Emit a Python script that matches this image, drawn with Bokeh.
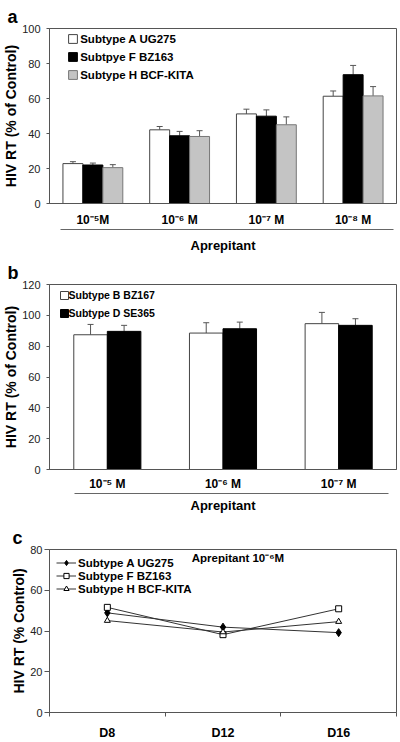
from bokeh.plotting import figure
from bokeh.layouts import column
from bokeh.models import (ColumnDataSource, Range1d, LinearAxis,
                          FixedTicker, SingleIntervalTicker, Legend, LegendItem, Label)
from bokeh.transform import dodge
from bokeh.embed import file_html
from bokeh.resources import INLINE

FONT = "Liberation Sans"

# ---------------- data ----------------
# panel a
conc_a = ["10⁻⁵M", "10⁻⁶ M", "10⁻⁷ M", "10⁻⁸ M"]
series_a = ["Subtype A UG275", "Subtpye F BZ163", "Subtype H BCF-KITA"]
a_A = [22.8, 42.1, 51.2, 61.3]
a_A_err = [1.1, 1.9, 2.7, 3.0]
a_F = [22.0, 38.7, 49.9, 73.6]
a_F_err = [1.1, 2.5, 3.6, 5.3]
a_H = [20.5, 38.3, 45.0, 61.5]
a_H_err = [1.7, 3.3, 4.5, 5.3]

# panel b
conc_b = ["10⁻⁵ M", "10⁻⁶ M", "10⁻⁷ M"]
series_b = ["Subtype B BZ167", "Subtype D SE365"]
b_B = [87.4, 88.5, 94.6]
b_B_err = [6.7, 6.7, 7.3]
b_D = [89.6, 91.3, 93.5]
b_D_err = [3.9, 4.3, 4.3]

# panel c
days_c = ["D8", "D12", "D16"]
series_c = ["Subtype A UG275", "Subtype F BZ163", "Subtype H BCF-KITA"]
c_A = [48.9, 41.9, 39.2]
c_F = [51.6, 38.2, 50.9]
c_H = [45.1, 39.5, 44.6]

AXIS_COL = "#555555"
ERR_COL = "#555555"


def style_title(p, letter, offset):
    p.title.text = letter
    p.title.text_font = FONT
    p.title.text_font_style = "bold"
    p.title.text_font_size = "18px"
    p.title.text_color = "#000000"
    p.title.align = "left"
    p.title.offset = offset
    p.title.standoff = 0
    p.title.vertical_align = "top"


def style_y(p, label, tick_out, standoff, label_standoff):
    ax = p.yaxis[0]
    ax.axis_label = label
    ax.axis_label_text_font = FONT
    ax.axis_label_text_font_style = "bold"
    ax.axis_label_text_font_size = "14px"
    ax.axis_label_text_color = "#000000"
    ax.axis_label_standoff = label_standoff
    ax.major_label_text_font = FONT
    ax.major_label_text_font_size = "11px"
    ax.major_label_text_color = "#222222"
    ax.major_label_standoff = standoff
    ax.major_tick_out = tick_out
    ax.major_tick_in = 0
    ax.minor_tick_out = 0
    ax.minor_tick_in = 0
    ax.axis_line_color = AXIS_COL
    ax.major_tick_line_color = AXIS_COL


def cat_axis(p, cats, xs, standoff, size):
    ax = p.xaxis[0]
    ax.ticker = FixedTicker(ticks=xs)
    ax.major_label_overrides = {x: c for x, c in zip(xs, cats)}
    ax.major_tick_out = 0
    ax.major_tick_in = 0
    ax.minor_tick_out = 0
    ax.minor_tick_in = 0
    ax.axis_line_color = AXIS_COL
    ax.major_label_text_font = FONT
    ax.major_label_text_font_style = "bold"
    ax.major_label_text_font_size = size
    ax.major_label_text_color = "#000000"
    ax.major_label_standoff = standoff
    return ax


def bar_panel(letter, cats, series, vals, errs, fills, outlines, height, top, bottom,
              ymax, bar_w, sep_bounds, cat_standoff, sep_standoff, leg_font, leg_glyph,
              leg_lab_h, leg_spacing, leg_standoff, leg_loc):
    xs = [i + 0.5 for i in range(len(cats))]
    p = figure(width=400, height=height, x_range=Range1d(0, len(cats)), y_range=Range1d(0, ymax),
               output_backend="svg", toolbar_location=None,
               min_border_left=49, min_border_right=4, min_border_top=top,
               min_border_bottom=bottom)
    p.background_fill_color = "white"
    p.border_fill_color = "white"
    p.outline_line_color = AXIS_COL
    p.xgrid.visible = False
    p.ygrid.visible = False
    p.yaxis.ticker = SingleIntervalTicker(interval=20)
    style_y(p, "HIV RT (% of Control)", 3, 6, 0)
    style_title(p, letter, -42)

    data = {"x": xs}
    n = len(series)
    offsets = [(i - (n - 1) / 2) * bar_w for i in range(n)]
    items = []
    for i in range(n):
        data[f"v{i}"] = vals[i]
        data[f"t{i}"] = [v + e for v, e in zip(vals[i], errs[i])]
    src = ColumnDataSource(data)
    for i in range(n):
        xx = dodge("x", offsets[i])
        p.segment(x0=xx, y0=f"v{i}", x1=xx, y1=f"t{i}", source=src,
                  line_color=ERR_COL, line_width=1)
        p.scatter(x=xx, y=f"t{i}", source=src, marker="dash", size=6,
                  line_color=ERR_COL, line_width=1)
        r = p.vbar(x=xx, top=f"v{i}", width=bar_w, source=src,
                   fill_color=fills[i], line_color=outlines[i], line_width=1)
        items.append(LegendItem(label=series[i], renderers=[r]))

    leg = Legend(items=items, location=leg_loc, padding=0, margin=0,
                 border_line_color=None, background_fill_alpha=0,
                 glyph_width=leg_glyph, glyph_height=leg_glyph, label_height=leg_lab_h,
                 spacing=leg_spacing, label_standoff=leg_standoff,
                 label_text_font=FONT, label_text_font_style="bold",
                 label_text_font_size=leg_font, label_text_color="#000000")
    p.add_layout(leg)

    cat_axis(p, cats, xs, cat_standoff, "12px")

    sax = LinearAxis(ticker=FixedTicker(ticks=[]), bounds=sep_bounds)
    sax.axis_label = "Aprepitant"
    sax.axis_label_text_font = FONT
    sax.axis_label_text_font_style = "bold"
    sax.axis_label_text_font_size = "13px"
    sax.axis_label_text_color = "#000000"
    sax.axis_label_standoff = sep_standoff
    sax.major_label_standoff = 0
    sax.major_tick_out = 0
    sax.major_tick_in = 0
    sax.minor_tick_out = 0
    sax.minor_tick_in = 0
    sax.axis_line_color = "#666666"
    p.add_layout(sax, "below")
    return p


pa = bar_panel("a", conc_a, series_a, [a_A, a_F, a_H], [a_A_err, a_F_err, a_H_err],
               ["#ffffff", "#000000", "#c4c4c4"], ["#444444", "#000000", "#777777"],
               height=255, top=28, bottom=52, ymax=100, bar_w=0.23,
               sep_bounds=(0.13, 3.96), cat_standoff=9, sep_standoff=8, leg_font="11.5px",
               leg_glyph=11, leg_lab_h=13, leg_spacing=5, leg_standoff=2,
               leg_loc=(18.2, 121.7))

pb = bar_panel("b", conc_b, series_b, [b_B, b_D], [b_B_err, b_D_err],
               ["#ffffff", "#000000"], ["#444444", "#000000"],
               height=265, top=29, bottom=51, ymax=120, bar_w=0.29,
               sep_bounds=(0.22, 2.93), cat_standoff=7, sep_standoff=4, leg_font="10.5px",
               leg_glyph=10, leg_lab_h=12, leg_spacing=6, leg_standoff=0,
               leg_loc=(9.5, 150.2))

# ---------------- panel c ----------------
xc = [i + 0.5 for i in range(len(days_c))]
pc = figure(width=400, height=222, x_range=Range1d(0, len(days_c)), y_range=Range1d(0, 80),
            output_backend="svg", toolbar_location=None,
            min_border_left=44, min_border_right=3, min_border_top=29, min_border_bottom=28)
pc.background_fill_color = "white"
pc.border_fill_color = "white"
pc.outline_line_color = AXIS_COL
pc.xgrid.visible = False
pc.ygrid.visible = False
pc.yaxis.ticker = SingleIntervalTicker(interval=20)
style_y(pc, "HIV RT (% Control)", 5, 2, 0)
style_title(pc, "c", -37)

xa = cat_axis(pc, days_c, xc, 9, "12.5px")
xa.ticker = FixedTicker(ticks=xc, minor_ticks=list(range(len(days_c) + 1)))
xa.minor_tick_out = 4
xa.minor_tick_line_color = AXIS_COL

srcc = ColumnDataSource(dict(x=xc, A=c_A, F=c_F, H=c_H))
specs = [("A", "diamond", "#000000", 8), ("F", "square", "#ffffff", 6), ("H", "triangle", "#ffffff", 6)]
items_c = []
for (key, marker, fill, size), name in zip(specs, series_c):
    lr = pc.line(x="x", y=key, source=srcc, line_color="#333333", line_width=1)
    sr = pc.scatter(x="x", y=key, source=srcc, marker=marker, size=size,
                    fill_color=fill, line_color="#000000", line_width=1)
    items_c.append(LegendItem(label=name, renderers=[lr, sr]))

legc = Legend(items=items_c, location="top_left", padding=0, margin=7,
              border_line_color=None, background_fill_alpha=0,
              glyph_width=20, glyph_height=13, label_height=13, spacing=0,
              label_standoff=2, label_text_font=FONT, label_text_font_style="bold",
              label_text_font_size="11.5px", label_text_color="#000000")
pc.add_layout(legc)

pc.add_layout(Label(x=1.23, y=75.8, text="Aprepitant 10⁻⁶M", text_font=FONT,
                    text_font_style="bold", text_font_size="11.5px",
                    text_baseline="middle", text_align="left", text_color="#000000"))

layout = column(pa, pb, pc, spacing=0)
open("out.html", "w").write(file_html(layout, INLINE))
